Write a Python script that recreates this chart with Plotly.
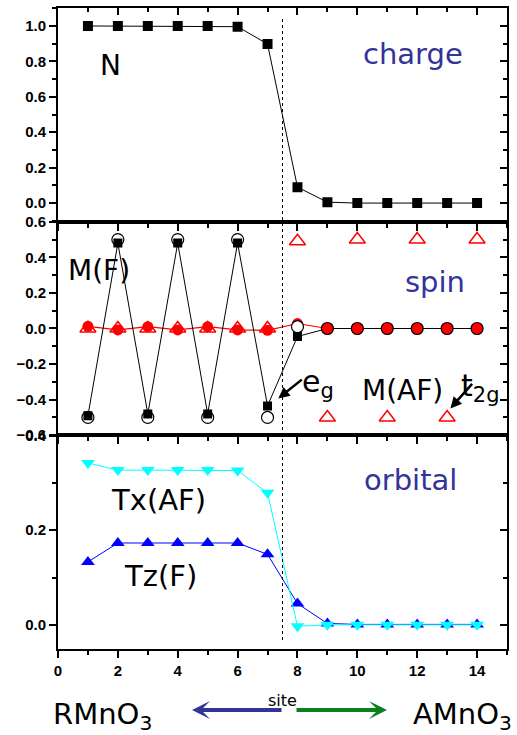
import plotly.graph_objects as go

# ---------------- data ----------------
sites = list(range(1, 15))

charge_N = [1.0, 1.0, 1.0, 1.0, 1.0, 0.996, 0.898, 0.09, 0.005, 0.0, 0.0, 0.0, 0.0, 0.0]

spin_eg_M = [-0.49, 0.48, -0.48, 0.48, -0.48, 0.48, -0.435, -0.045, 0.0, 0.0, 0.0, 0.0, 0.0, 0.0]
spin_open_circ = [-0.5, 0.5, -0.5, 0.5, -0.5, 0.5, -0.5, 0.01, 0.0, 0.0, 0.0, 0.0, 0.0, 0.0]
spin_red_circ = [0.012, -0.008, 0.01, -0.008, 0.01, -0.008, -0.01, 0.028, 0.0, 0.0, 0.0, 0.0, 0.0, 0.0]
spin_t2g_tri = [0.0, 0.0, 0.0, 0.0, 0.0, 0.0, 0.0, 0.49, -0.5, 0.5, -0.5, 0.5, -0.5, 0.5]

orb_Tz_F = [0.133, 0.173, 0.173, 0.173, 0.173, 0.173, 0.149, 0.045, 0.003, 0.001, 0.001, 0.001, 0.001, 0.001]
orb_Tx_AF = [0.342, 0.327, 0.327, 0.327, 0.327, 0.326, 0.279, -0.003, 0.0, 0.0, 0.0, 0.0, 0.0, 0.0]

x_ticks = [0, 2, 4, 6, 8, 10, 12, 14]
y1_ticks = [0.0, 0.2, 0.4, 0.6, 0.8, 1.0]
y2_ticks = [-0.6, -0.4, -0.2, 0.0, 0.2, 0.4, 0.6]
y3_ticks = [0.0, 0.2, 0.4]
interface_x = 7.5

# ---------------- styles ----------------
TXT = "DejaVu Sans"
TICKFONT = dict(family="Liberation Sans", size=15, color="black")
NAVY = "#333399"
open_fill = ["rgba(0,0,0,0)"] * 7 + ["white"] + ["red"] * 6

def blab(v, dec=1):
    s = f"{v:.{dec}f}"
    if s.startswith("-"):
        s = "\u2212" + s[1:]
    return f"<b>{s}</b>"

fig = go.Figure()

# top panel: charge
fig.add_trace(go.Scatter(x=sites, y=charge_N, mode="lines+markers", xaxis="x", yaxis="y",
                         line=dict(color="black", width=1),
                         marker=dict(symbol="square", size=10, color="black")))

# middle panel: spin
fig.add_trace(go.Scatter(x=sites, y=spin_t2g_tri, mode="markers", xaxis="x2", yaxis="y2",
                         marker=dict(symbol="triangle-up-open", size=14, color="red",
                                     line=dict(color="red", width=1.5))))
fig.add_trace(go.Scatter(x=sites, y=spin_red_circ, mode="lines+markers", xaxis="x2", yaxis="y2",
                         line=dict(color="red", width=1.2),
                         marker=dict(symbol="circle", size=11, color="red")))
fig.add_trace(go.Scatter(x=sites, y=spin_eg_M, mode="lines+markers", xaxis="x2", yaxis="y2",
                         line=dict(color="black", width=1),
                         marker=dict(symbol="square", size=9, color="black")))
fig.add_trace(go.Scatter(x=sites, y=spin_open_circ, mode="markers", xaxis="x2", yaxis="y2",
                         marker=dict(symbol="circle", size=12, color=open_fill,
                                     line=dict(color="black", width=1.2))))

# bottom panel: orbital
fig.add_trace(go.Scatter(x=sites, y=orb_Tz_F, mode="lines+markers", xaxis="x3", yaxis="y3",
                         line=dict(color="#0000FF", width=1),
                         marker=dict(symbol="triangle-up", size=12, color="#0000FF")))
fig.add_trace(go.Scatter(x=sites, y=orb_Tx_AF, mode="lines+markers", xaxis="x3", yaxis="y3",
                         line=dict(color="#00FFFF", width=1),
                         marker=dict(symbol="triangle-down", size=12, color="#00FFFF")))

# dummy traces so the mirror axes are drawn
for xa, ya in [("x", "y4"), ("x2", "y5"), ("x3", "y6"), ("x4", "y")]:
    fig.add_trace(go.Scatter(x=[], y=[], xaxis=xa, yaxis=ya, hoverinfo="skip"))

XR = [0, 15]
def xax(anchor, labels=False):
    return dict(domain=[0, 1], anchor=anchor, range=XR, tickmode="array", tickvals=x_ticks,
                ticktext=[f"<b>{v}</b>" for v in x_ticks],
                showticklabels=labels, ticks="outside", ticklen=7, tickwidth=1.5, tickcolor="black",
                minor=dict(tickmode="linear", dtick=1, tick0=0, ticks="outside", ticklen=4, tickwidth=1.5,
                           tickcolor="black"),
                showline=True, linecolor="black", linewidth=2, mirror=True, showgrid=False,
                zeroline=False, tickfont=TICKFONT, automargin=False)

def yax(domain, anchor, rng, tv):
    return dict(domain=domain, anchor=anchor, range=rng, tickmode="array", tickvals=tv,
                ticktext=[blab(v) for v in tv], ticks="outside", ticklen=7, tickwidth=1.5, tickcolor="black",
                minor=dict(tickmode="linear", tick0=0, dtick=0.1, ticks="outside", ticklen=4, tickwidth=1.5,
                           tickcolor="black"),
                showline=True, linecolor="black", linewidth=2, mirror=True, showgrid=False,
                zeroline=False, tickfont=TICKFONT, automargin=False)

def yright(over, anchor, rng):
    return dict(overlaying=over, side="right", anchor=anchor, range=rng, tickmode="linear", tick0=0,
                dtick=0.2, ticks="inside", ticklen=7, tickwidth=1.5, tickcolor="black",
                minor=dict(dtick=0.1, ticks="inside", ticklen=4, tickwidth=1.5, tickcolor="black"),
                showticklabels=False, showline=False, showgrid=False, zeroline=False, automargin=False)

R1 = [-0.105, 1.1015]
R2 = [-0.6005, 0.6005]
R3 = [-0.051, 0.4005]

ann = []
def txt(t, px, py, size=29, color="black", family=TXT):
    ann.append(dict(text=t, xref="paper", yref="paper", x=(px - 58) / 449, y=(649 - py) / 641,
                    xanchor="center", yanchor="middle", showarrow=False,
                    font=dict(family=family, size=size, color=color)))

txt("charge", 413, 54, color=NAVY)
txt("N", 110, 65, size=28)
txt("spin", 435, 282, color=NAVY)
txt("M(F)", 99, 270, size=28)
txt("M(AF)", 402, 390, size=28)
txt("orbital", 410, 480, color=NAVY)
txt("Tx(AF)", 158, 500)
txt("Tz(F)", 160, 576)
txt("e<sub>g</sub>", 318, 383, size=30)
txt("t<sub>2g</sub>", 480, 388, size=30)
txt("RMnO<sub>3</sub>", 102, 716)
txt("AMnO<sub>3</sub>", 462, 716)
txt("site", 282, 700, size=16)

# pointer arrows (spin panel)
ann.append(dict(text="", xref="x2", yref="y2", x=7.36, y=-0.393, ax=25, ay=-20, showarrow=True,
                arrowhead=2, arrowsize=0.9, arrowwidth=2.5, arrowcolor="black"))
ann.append(dict(text="", xref="x2", yref="y2", x=13.11, y=-0.449, ax=23, ay=-26, showarrow=True,
                arrowhead=2, arrowsize=0.9, arrowwidth=2.5, arrowcolor="black"))
# site arrows
ann.append(dict(text="", xref="paper", yref="paper", x=(192 - 58) / 449, y=(649 - 710) / 641,
                ax=91, ay=0, showarrow=True, arrowhead=3, arrowsize=0.75, arrowwidth=4,
                arrowcolor=NAVY))
ann.append(dict(text="", xref="paper", yref="paper", x=(387 - 58) / 449, y=(649 - 710) / 641,
                ax=-92, ay=0, showarrow=True, arrowhead=3, arrowsize=0.75, arrowwidth=4,
                arrowcolor="#0A8020"))

fig.update_layout(
    width=517, height=735, margin=dict(l=58, r=10, t=8, b=86),
    paper_bgcolor="white", plot_bgcolor="white", showlegend=False,
    xaxis=xax("y"), xaxis2=xax("y2"), xaxis3=xax("y3", labels=True),
    xaxis4=dict(overlaying="x", side="top", anchor="y", range=XR, tickmode="array", tickvals=x_ticks,
                ticks="inside", ticklen=7, tickwidth=1.5, tickcolor="black",
                minor=dict(tickmode="linear", dtick=1, tick0=0, ticks="inside", ticklen=4, tickwidth=1.5,
                           tickcolor="black"),
                showticklabels=False, showline=False, showgrid=False, zeroline=False, automargin=False),
    yaxis=yax([2 / 3, 1], "x", R1, y1_ticks), yaxis2=yax([1 / 3, 2 / 3], "x2", R2, y2_ticks),
    yaxis3=yax([0, 1 / 3], "x3", R3, y3_ticks),
    yaxis4=yright("y", "x", R1), yaxis5=yright("y2", "x2", R2), yaxis6=yright("y3", "x3", R3),
    annotations=ann,
    shapes=[dict(type="line", xref="x", yref="paper", x0=interface_x, x1=interface_x,
                 y0=0.014, y1=0.986, line=dict(color="black", width=1, dash="dot"))],
)

fig.write_html("out.html", config={"displayModeBar": False},
               post_script="document.body.style.margin='0px';")
